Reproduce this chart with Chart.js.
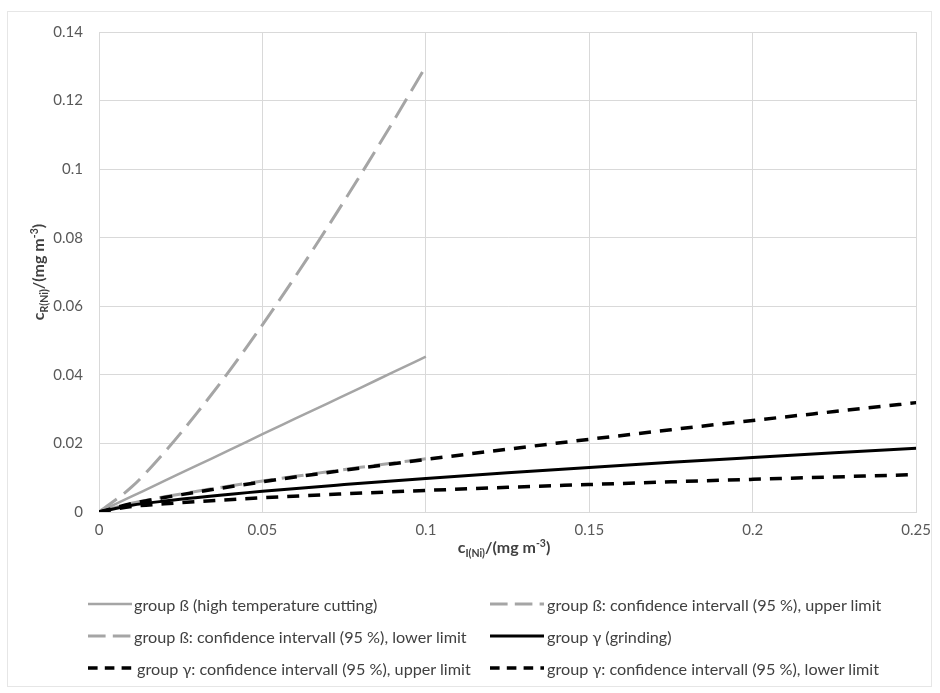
<!DOCTYPE html>
<html>
<head>
<meta charset="utf-8">
<script src="https://cdn.jsdelivr.net/npm/chart.js@4/dist/chart.umd.min.js"></script>
<style>
  html, body { margin:0; padding:0; background:#fff; }
  #wrap { position:relative; width:940px; height:693px; overflow:hidden; font-family: Lato, "Liberation Sans", sans-serif; }
  #c { position:absolute; left:0; top:0; }
  .frame { position:absolute; left:7px; top:11px; width:925px; height:676px; border:1px solid #e6e6e6; box-sizing:border-box; pointer-events:none; }
  .atitle { position:absolute; font-weight:bold; font-size:16px; color:#404040; white-space:nowrap; }
  .atitle sub, .atitle sup { font-size:10.5px; }
  #ytitle { left:39px; top:272px; transform: translate(-50%,-50%) rotate(-90deg); }
  #xtitle { left:504px; top:548px; transform: translate(-50%,-50%); }
  .lg { position:absolute; height:20px; display:flex; align-items:center; font-size:16.2px; color:#404040; white-space:nowrap; }
  .lg svg { display:block; }
</style>
</head>
<body>
<div id="wrap">
  <canvas id="c" width="940" height="693"></canvas>
  <div class="frame"></div>
  <div id="ytitle" class="atitle">c<sub>R(Ni)</sub>/(mg m<sup>-3</sup>)</div>
  <div id="xtitle" class="atitle">c<sub>I(Ni)</sub>/(mg m<sup>-3</sup>)</div>
  <div id="legend"></div>
</div>
<script>
// ---- data ----
const xBeta = [0, 0.01, 0.02, 0.03, 0.04, 0.05, 0.06, 0.07, 0.08, 0.09, 0.1];
const betaFit   = [0, 0.00453, 0.00906, 0.0136, 0.0181, 0.0227, 0.0272, 0.0317, 0.0362, 0.0408, 0.0453];
const betaUpper = [0, 0.0073, 0.0174, 0.0289, 0.0413, 0.0546, 0.0686, 0.0832, 0.0983, 0.1139, 0.13];
const betaLower = [0, 0.00257, 0.00442, 0.00606, 0.00759, 0.00902, 0.0104, 0.01174, 0.01302, 0.01428, 0.0155];

const xGamma = [0, 0.01, 0.02, 0.05, 0.075, 0.1, 0.125, 0.15, 0.175, 0.2, 0.225, 0.25];
const gammaFit   = [0, 0.00196, 0.00318, 0.00603, 0.0080, 0.0098, 0.01145, 0.0130, 0.01449, 0.0159, 0.01728, 0.0186];
const gammaUpper = [0, 0.00243, 0.00423, 0.0088, 0.01218, 0.01533, 0.01832, 0.0212, 0.0240, 0.0267, 0.0293, 0.0319];
const gammaLower = [0, 0.00158, 0.00239, 0.00415, 0.00529, 0.00629, 0.00719, 0.00802, 0.0088, 0.00953, 0.01023, 0.0109];

const seriesNames = [
  "group ß (high temperature cutting)",
  "group ß: confidence intervall (95 %), upper limit",
  "group ß: confidence intervall (95 %), lower limit",
  "group γ (grinding)",
  "group γ: confidence intervall (95 %), upper limit",
  "group γ: confidence intervall (95 %), lower limit"
];
const xTickLabels = ["0", "0.05", "0.1", "0.15", "0.2", "0.25"];
const yTickLabels = ["0", "0.02", "0.04", "0.06", "0.08", "0.1", "0.12", "0.14"];

// ---- styles ----
const GRAY = "#a5a5a5", BLACK = "#000000";
const styles = [
  {color: GRAY,  width: 2.5, dash: []},
  {color: GRAY,  width: 3,   dash: [22, 9]},
  {color: GRAY,  width: 3,   dash: [22, 9]},
  {color: BLACK, width: 3,   dash: []},
  {color: BLACK, width: 3.5, dash: [12, 9]},
  {color: BLACK, width: 3.5, dash: [12, 9]}
];
const xsets = [xBeta, xBeta, xBeta, xGamma, xGamma, xGamma];
const ysets = [betaFit, betaUpper, betaLower, gammaFit, gammaUpper, gammaLower];

const datasets = seriesNames.map((name, i) => ({
  label: name,
  data: xsets[i].map((x, k) => ({x: x, y: ysets[i][k]})),
  borderColor: styles[i].color,
  borderWidth: styles[i].width,
  borderDash: styles[i].dash,
  pointRadius: 0,
  fill: false,
  cubicInterpolationMode: 'monotone',
  order: 5 - i
}));

const tickFont = {family: "Lato, 'Liberation Sans', sans-serif", size: 15};
const PAD = {left: 0, right: 22, top: 32, bottom: 0};

new Chart(document.getElementById('c'), {
  type: 'line',
  data: { datasets },
  options: {
    responsive: false,
    animation: false,
    devicePixelRatio: 1,
    layout: { padding: PAD },
    plugins: { legend: { display: false }, tooltip: { enabled: false } },
    scales: {
      x: {
        type: 'linear', min: 0, max: 0.25,
        ticks: { stepSize: 0.05, color: '#595959', font: tickFont, padding: 9,
                 callback: (v, i) => xTickLabels[i] },
        grid: { color: '#d9d9d9', lineWidth: 1, drawTicks: false },
        border: { color: '#d9d9d9' },
        afterFit: s => { s.height = 693 - 512; }
      },
      y: {
        type: 'linear', min: 0, max: 0.14,
        ticks: { stepSize: 0.02, color: '#595959', font: tickFont, padding: 16,
                 callback: (v, i) => yTickLabels[i] },
        grid: { color: '#d9d9d9', lineWidth: 1, drawTicks: false },
        border: { color: '#d9d9d9' },
        afterFit: s => { s.width = 99; }
      }
    }
  }
});

// ---- HTML legend (two columns, like the reference) ----
const legendPos = [
  {x: 88,  y: 604, sw: 44, tx: 134},
  {x: 490, y: 604, sw: 54, tx: 547},
  {x: 88,  y: 636, sw: 44, tx: 134},
  {x: 490, y: 636, sw: 54, tx: 547},
  {x: 88,  y: 668, sw: 44, tx: 137},
  {x: 490, y: 668, sw: 54, tx: 547}
];
const lg = document.getElementById('legend');
seriesNames.forEach((name, i) => {
  const p = legendPos[i], st = styles[i];
  const sv = document.createElementNS('http://www.w3.org/2000/svg', 'svg');
  sv.setAttribute('width', p.sw); sv.setAttribute('height', 10);
  sv.style.position = 'absolute'; sv.style.left = p.x + 'px'; sv.style.top = (p.y - 5) + 'px';
  const ln = document.createElementNS('http://www.w3.org/2000/svg', 'line');
  ln.setAttribute('x1', 0); ln.setAttribute('x2', p.sw); ln.setAttribute('y1', 5); ln.setAttribute('y2', 5);
  ln.setAttribute('stroke', st.color); ln.setAttribute('stroke-width', st.width);
  if (st.dash.length) ln.setAttribute('stroke-dasharray', st.dash.map(d => d * 0.8).join(' '));
  sv.appendChild(ln);
  lg.appendChild(sv);
  const t = document.createElement('div');
  t.className = 'lg'; t.textContent = name;
  t.style.left = p.tx + 'px'; t.style.top = (p.y - 10) + 'px';
  lg.appendChild(t);
});
</script>
</body>
</html>
